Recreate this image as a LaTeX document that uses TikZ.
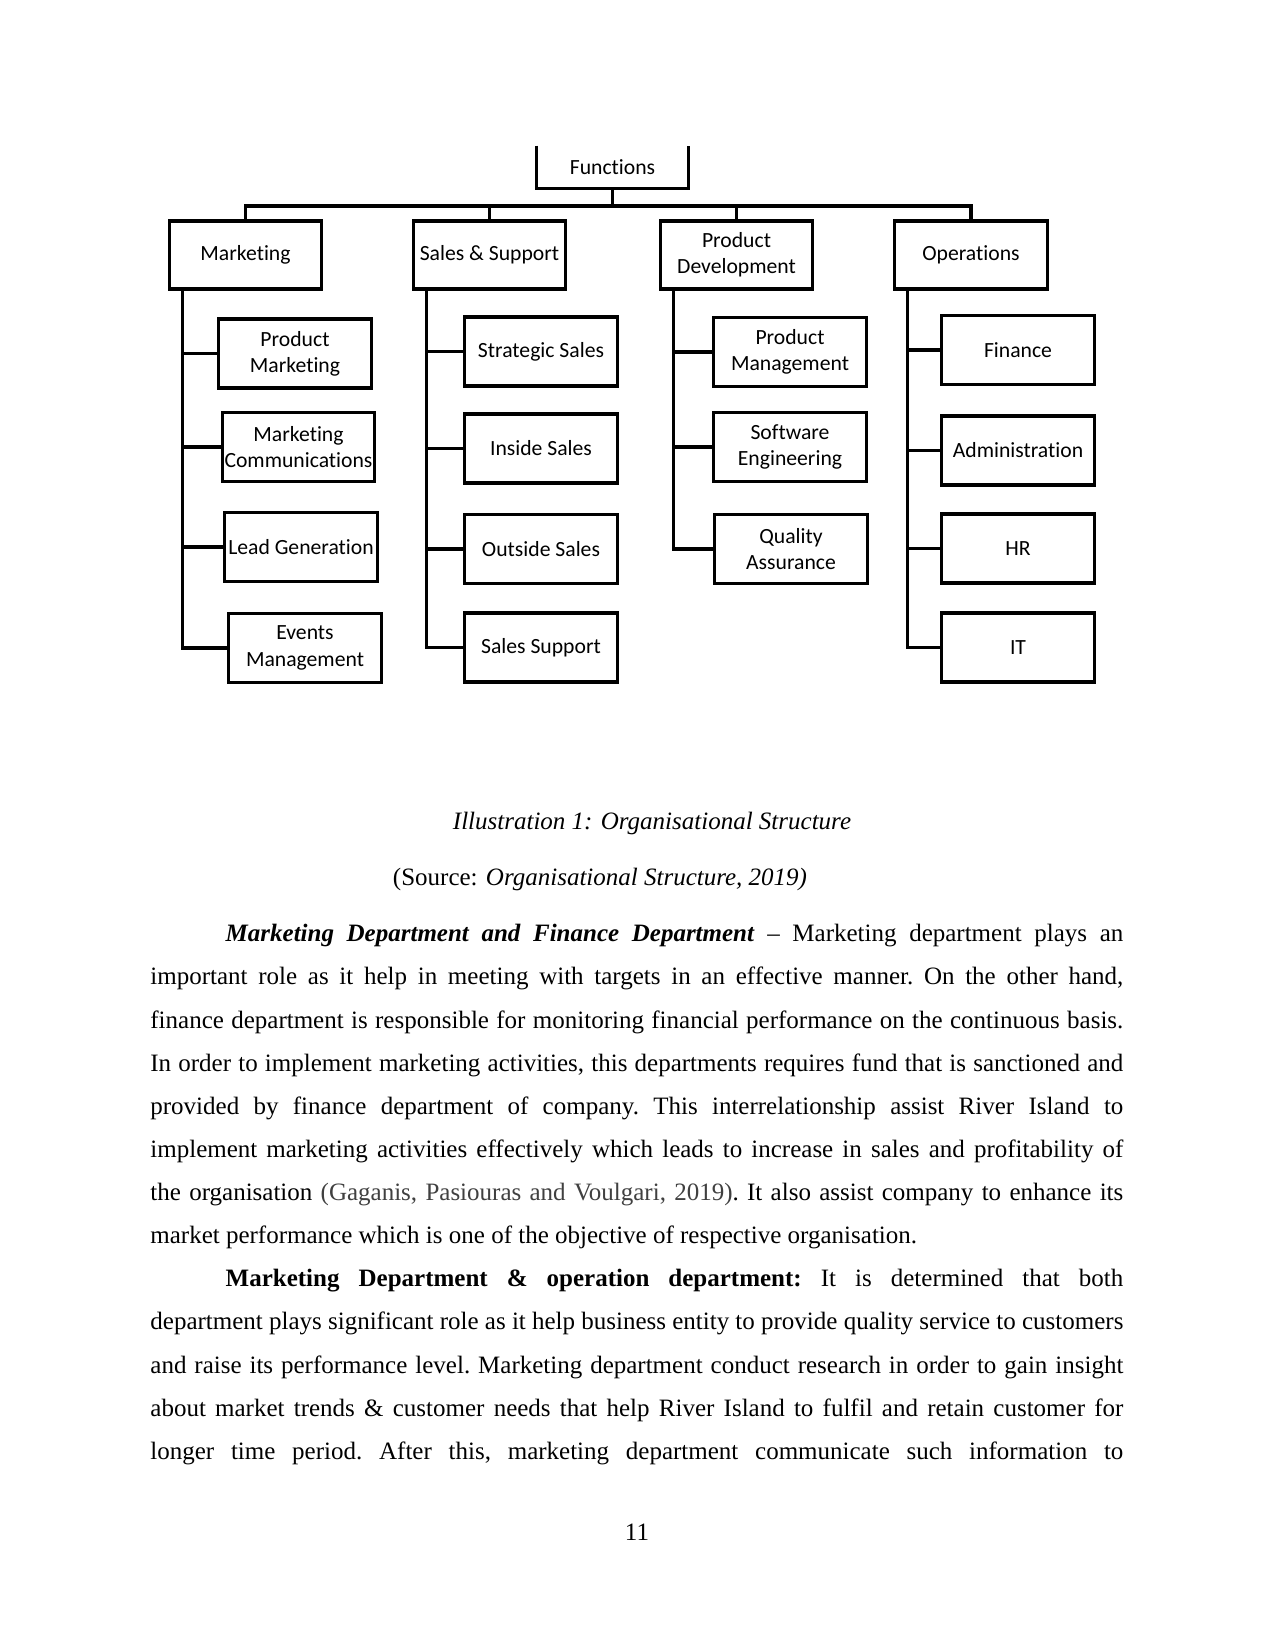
\documentclass[tikz,border=0pt]{standalone}
\usepackage{fontspec}
\setmainfont{Liberation Serif}
\newfontfamily\boxfont[Ligatures=NoCommon]{Carlito}
\usepackage{xcolor}
\usetikzlibrary{positioning,calc}
\definecolor{ink}{HTML}{000000}
\definecolor{cite}{HTML}{404040}
\tikzset{
  blk/.style    = {draw=ink, line width=1.6pt, align=center, inner sep=1pt, text=ink,
                   font=\boxfont\fontsize{10.4}{12.6}\selectfont,
                   minimum width=73.2pt, minimum height=33pt},
  hed/.style    = {blk, minimum height=32.6pt},
  fnbox/.style  = {align=center, inner sep=0pt, text=ink, font=\boxfont\fontsize{10.4}{12.6}\selectfont,
                   minimum width=72.5pt, minimum height=20pt},
  link/.style   = {draw=ink, line width=1.6pt, line join=miter},
  captxt/.style = {font=\fontsize{12}{14}\selectfont, text=ink, inner sep=0pt},
  para/.style   = {text width=467pt, align=justify, inner sep=0pt, text=ink,
                   font=\fontsize{12}{20.7}\selectfont,
                   execute at begin node={\frenchspacing\hyphenpenalty=10000\emergencystretch=2em}},
}

\begin{document}
\begin{tikzpicture}[x=0.48pt, y=-0.48pt]
  % page
  \fill[white] (0,0) rectangle (1275,1650);
  \useasboundingbox (0,0) rectangle (1275,1650);

  % ---------------- top ----------------
  \node[fnbox] (fn) at (612.5,167) {Functions};
  \draw[link] (fn.north west) -- (fn.south west) -- (fn.south east) -- (fn.north east);
  \coordinate (bus) at (612.5,206);

  % ---------------- departments ----------------
  \node[hed] (mkt) at (245.5,255) {Marketing};
  \node[hed] (sls) at (489.5,255) {Sales \& Support};
  \node[hed] (pdv) at (736.5,255) {Product\\Development};
  \node[hed] (ops) at (971,255)   {Operations};

  \draw[link] (mkt.north) -- (mkt.north |- bus) -- (ops.north |- bus) -- (ops.north);
  \draw[link] (fn.south) -- (fn.south |- bus);
  \foreach \h in {sls,pdv}
    \draw[link] (\h.north) -- (\h.north |- bus);

  % ---------------- units ----------------
  \node[blk] (pmk) at (295,353.5) {Product\\Marketing};
  \node[blk] (mcm) at (298.5,447) {Marketing\\Communications};
  \node[blk] (lgn) at (301,547)   {Lead Generation};
  \node[blk] (evm) at (305,648)   {Events\\Management};

  \node[blk] (sts) at (541,351.5) {Strategic Sales};
  \node[blk] (ins) at (541,448.5) {Inside Sales};
  \node[blk] (ots) at (541,549)   {Outside Sales};
  \node[blk] (ssp) at (541,647.5) {Sales Support};

  \node[blk] (pmg) at (790,352)   {Product\\Management};
  \node[blk] (swe) at (790,447)   {Software\\Engineering};
  \node[blk] (qas) at (791,549)   {Quality\\Assurance};

  \node[blk] (fin) at (1018,350)   {Finance};
  \node[blk] (adm) at (1018,450.5) {Administration};
  \node[blk] (hr)  at (1018,548.5) {HR};
  \node[blk] (it)  at (1018,647.5) {IT};

  % trunks from each department down to its units
  \foreach \p/\units in {mkt/{pmk,mcm,lgn,evm}, sls/{sts,ins,ots,ssp}, pdv/{pmg,swe,qas}, ops/{fin,adm,hr,it}}
    \foreach \u in \units
      \draw[link] ([xshift=7pt]\p.south west) |- (\u.west);

  % ---------------- caption ----------------
  \node[captxt] (cap) at (652,823) {\textit{Illustration 1: Organisational Structure}};
  \node[captxt] (src) at (600,879) {(Source: \textit{Organisational Structure, 2019)}};

  % ---------------- body text ----------------
  \node[para, anchor=north west] (txt) at (150,924) {%
    \hspace*{0.5in}\textbf{\textit{Marketing Department and Finance Department}} -- Marketing department plays an\linebreak
    important role as it help in meeting with targets in an effective manner. On the other hand,\linebreak
    finance department is responsible for monitoring financial performance on the continuous basis.\linebreak
    In order to implement marketing activities, this departments requires fund that is sanctioned and\linebreak
    provided by finance department of company. This interrelationship assist River Island to\linebreak
    implement marketing activities effectively which leads to increase in sales and profitability of\linebreak
    the organisation \textcolor{cite}{(Gaganis, Pasiouras and Voulgari, 2019)}. It also assist company to enhance its\linebreak
    market performance which is one of the objective of respective organisation.\par
    \parfillskip=0pt
    \hspace*{0.5in}\textbf{Marketing Department \& operation department:} It is determined that both\linebreak
    department plays significant role as it help business entity to provide quality service to customers\linebreak
    and raise its performance level. Marketing department conduct research in order to gain insight\linebreak
    about market trends \& customer needs that help River Island to fulfil and retain customer for\linebreak
    longer time period. After this, marketing department communicate such information to\par};

  \node[captxt] (pg) at (637,1532) {11};
\end{tikzpicture}
\end{document}
